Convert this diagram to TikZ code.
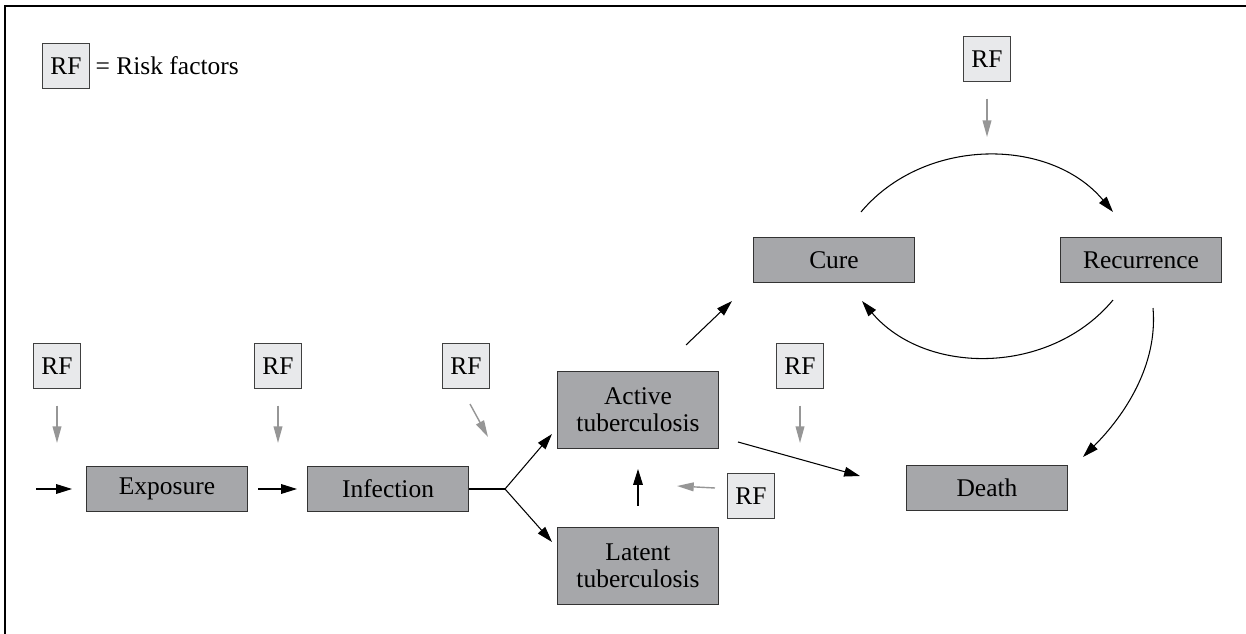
\documentclass[tikz,border=0pt]{standalone}
\usepackage{fontspec}
\setmainfont{Liberation Serif}
\usetikzlibrary{positioning,arrows.meta}

\definecolor{boxgray}{RGB}{166,167,170}
\definecolor{rfgray}{RGB}{232,233,235}
\definecolor{rfarrow}{RGB}{150,150,150}

\begin{document}
\begin{tikzpicture}[
    x=0.02cm, y=0.02cm,
    >={Triangle[length=9pt,width=5.5pt]},
    font=\fontsize{14.5}{15.5}\selectfont,
    stage/.style={draw=black!80,fill=boxgray,line width=0.6pt,
        minimum width=3.22cm,minimum height=0.9cm,align=center,inner sep=0pt},
    tallstage/.style={stage,minimum height=1.54cm},
    rf/.style={draw=black!75,fill=rfgray,line width=0.6pt,
        minimum width=0.94cm,minimum height=0.9cm,inner sep=0pt},
    rfto/.style={->,draw=rfarrow,line width=0.8pt,
        >={Triangle[length=9.5pt,width=5pt]}},
    flow/.style={->,line width=0.6pt}
]
\useasboundingbox (0,0) rectangle (1246,-634);

% frame
\draw[line width=1.1pt] (1246,-6) -- (5,-6) -- (5,-634);

% legend
\node[rf] (key) at (66,-66) {RF};
\node[right=3pt of key,inner sep=0pt] (keytext) {= Risk factors};

% stages
\node[stage] (Exp) at (167,-489) {Exposure};
\node[stage] (Inf) at (388,-489) {Infection};
\node[tallstage] (Act) at (638,-410) {Active\\tuberculosis};
\node[tallstage] (Lat) at (638,-566) {Latent\\tuberculosis};
\node[stage] (Cure) at (834,-260) {Cure};
\node[stage] (Rec) at (1141,-260) {Recurrence};
\node[stage] (Death) at (987,-488) {Death};

% risk factors
\node[rf] (rfExp) at (57,-366) {RF};
\node[rf] (rfInf) at (278,-366) {RF};
\node[rf] (rfSplit) at (466,-366) {RF};
\node[rf] (rfDeath) at (800,-366) {RF};
\node[rf] (rfLat) at (751,-496) {RF};
\node[rf] (rfRec) at (987,-59) {RF};

% free ends
\coordinate (start) at (36,-489);
\coordinate (split) at (505,-489);
\coordinate (atExp) at (57,-443);
\coordinate (atInf) at (278,-443);
\coordinate (atSplit) at (488,-437);
\coordinate (atDeath) at (800,-443);
\coordinate (atLat) at (677,-486);
\coordinate (atRec) at (987,-137);

% main flow
\draw[flow,shorten >=0.28cm] (start) -- (Exp);
\draw[flow,shorten <=0.2cm,shorten >=0.2cm] (Exp) -- (Inf);
\draw[line width=0.6pt] (Inf) -- (split);
\draw[flow] (split) -- ([shift={(-5,15)}]Act.south west);
\draw[flow] (split) -- ([shift={(-5,-15)}]Lat.north west);
\draw[flow,shorten <=0.42cm,shorten >=0.4cm] (Lat) -- (Act);
\draw[flow] ([shift={(19,-32)}]Act.east) -- ([shift={(-46,12)}]Death.west);
\draw[flow] ([shift={(48,26)}]Act.north) -- ([shift={(-21,-18)}]Cure.south west);
\draw[flow] ([shift={(27,25)}]Cure.north) to[bend left=50] ([shift={(-28,25)}]Rec.north);
\draw[flow] ([shift={(-28,-17)}]Rec.south) to[bend left=50] ([shift={(28,-18)}]Cure.south);
\draw[flow] ([shift={(12,-25)}]Rec.south) to[out=-85,in=45,looseness=0.9] ([shift={(15,8)}]Death.north east);

% risk factor arrows
\draw[rfto,shorten <=0.33cm] (rfExp) -- (atExp);
\draw[rfto,shorten <=0.33cm] (rfInf) -- (atInf);
\draw[rfto] ([shift={(4,-15)}]rfSplit.south) -- (atSplit);
\draw[rfto,shorten <=0.33cm] (rfDeath) -- (atDeath);
\draw[rfto] ([shift={(-12,8)}]rfLat.west) -- (atLat);
\draw[rfto,shorten <=0.33cm] (rfRec) -- (atRec);

\end{tikzpicture}
\end{document}
